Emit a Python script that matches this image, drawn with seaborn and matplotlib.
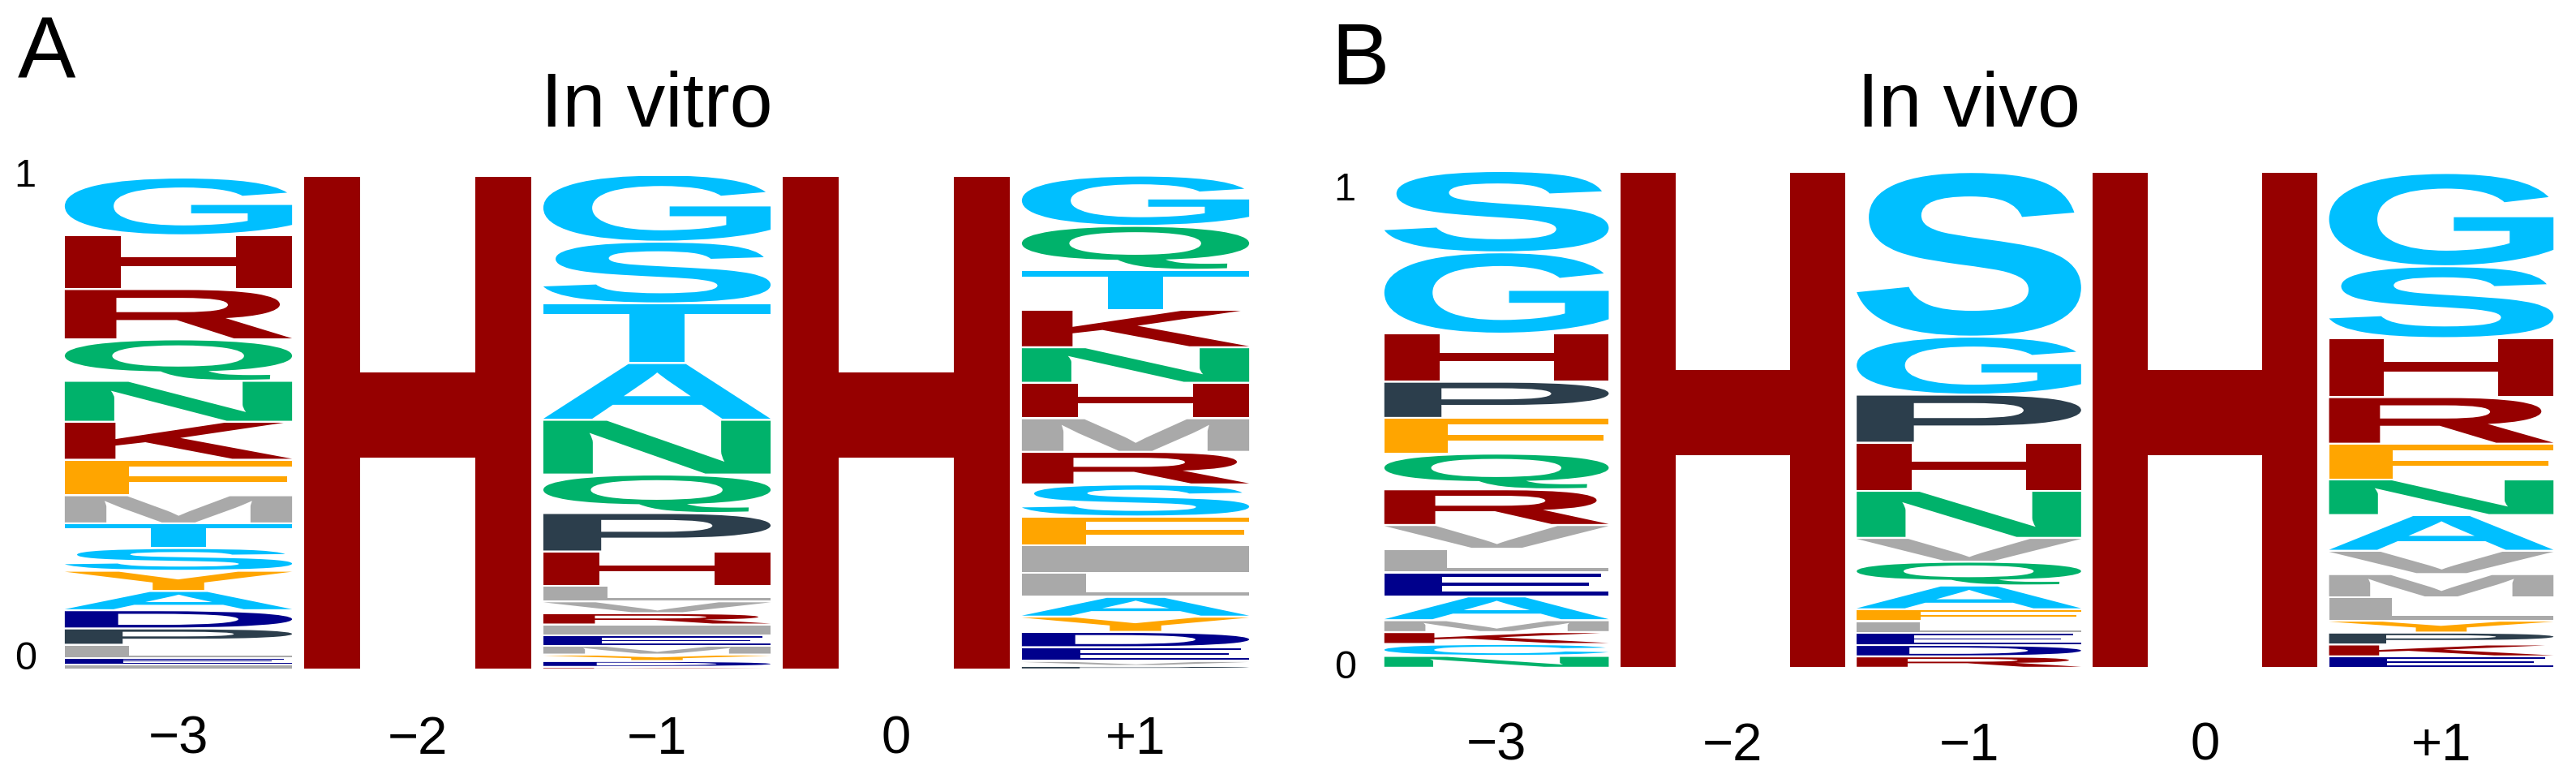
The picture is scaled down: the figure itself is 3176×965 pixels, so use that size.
import matplotlib
matplotlib.use("Agg")
import numpy as np
import pandas as pd
import seaborn as sns
import matplotlib.pyplot as plt
from matplotlib.textpath import TextPath
from matplotlib.font_manager import FontProperties
from matplotlib.patches import PathPatch
from matplotlib.transforms import Affine2D

# ---------------- data (letters listed top to bottom of each stack) ----------------
positions = ["\u22123", "\u22122", "\u22121", "0", "+1"]
titles = ["In vitro", "In vivo"]
panel_labels = ["A", "B"]

vitro_m3_letters = list("GHRQNKFMTSYADPLEI")
vitro_m3_heights = [.117, .109, .102, .084, .083, .077, .072, .057, .050, .046, .041, .039, .037, .033, .027, .013, .010]
vitro_m2_letters = ["H"]
vitro_m2_heights = [1.0]
vitro_m1_letters = list("GSTANQPHLVRIEMYDK")
vitro_m1_heights = [.136, .125, .121, .115, .111, .078, .078, .070, .031, .024, .023, .022, .021, .018, .013, .012, .005]
vitro_0_letters = ["H"]
vitro_0_heights = [1.0]
vitro_p1_letters = list("GQTKNHMRSFILAYDEVP")
vitro_p1_heights = [.102, .089, .081, .076, .072, .072, .068, .066, .065, .058, .056, .049, .040, .031, .031, .028, .010, .007]

vivo_m3_letters = list("SGHPFQRVLEAMKCN")
vivo_m3_heights = [.164, .164, .097, .073, .072, .072, .072, .048, .048, .048, .048, .024, .024, .024, .024]
vivo_m2_letters = ["H"]
vivo_m2_heights = [1.0]
vivo_m1_letters = list("SGPHNVQAFLEDR")
vivo_m1_heights = [.332, .117, .097, .097, .095, .048, .048, .048, .024, .024, .024, .023, .023]
vivo_0_letters = ["H"]
vivo_0_heights = [1.0]
vivo_p1_letters = list("GSHRFNAVMLYPKE")
vivo_p1_heights = [.188, .145, .119, .094, .072, .072, .072, .047, .047, .047, .024, .024, .024, .023]

aa_colors = {
    "G": "#00BFFF", "S": "#00BFFF", "T": "#00BFFF", "A": "#00BFFF", "C": "#00BFFF",
    "H": "#960000", "R": "#960000", "K": "#960000",
    "N": "#00B26B", "Q": "#00B26B",
    "F": "#FFA500", "Y": "#FFA500", "W": "#FFA500",
    "M": "#A9A9A9", "V": "#A9A9A9", "L": "#A9A9A9", "I": "#A9A9A9",
    "D": "#00008C", "E": "#00008C",
    "P": "#2C3E4C",
}

panels = [
    [(vitro_m3_letters, vitro_m3_heights), (vitro_m2_letters, vitro_m2_heights),
     (vitro_m1_letters, vitro_m1_heights), (vitro_0_letters, vitro_0_heights),
     (vitro_p1_letters, vitro_p1_heights)],
    [(vivo_m3_letters, vivo_m3_heights), (vivo_m2_letters, vivo_m2_heights),
     (vivo_m1_letters, vivo_m1_heights), (vivo_0_letters, vivo_0_heights),
     (vivo_p1_letters, vivo_p1_heights)],
]

# tidy table
rows = []
for p, cols in enumerate(panels):
    for i, (lets, hts) in enumerate(cols):
        y = 0.0
        for l, h in zip(reversed(lets), reversed(hts)):
            rows.append(dict(panel=p, pos=i, letter=l, bottom=y, height=h))
            y += h
df = pd.DataFrame(rows)

# ---------------- style ----------------
sns.set_theme(style="white")
plt.rcParams["font.family"] = ["Liberation Sans", "DejaVu Sans"]
plt.rcParams["text.color"] = "black"
plt.rcParams["xtick.color"] = "black"
plt.rcParams["ytick.color"] = "black"
plt.rcParams["xtick.labelcolor"] = "black"
plt.rcParams["ytick.labelcolor"] = "black"

letter_font = FontProperties(family="Liberation Sans", weight="bold")
_path_cache = {}


def letter_path(ch):
    if ch not in _path_cache:
        tp = TextPath((0, 0), ch, size=1, prop=letter_font)
        _path_cache[ch] = (tp, tp.get_extents())
    return _path_cache[ch]


def draw_letter(ax, ch, x, y, w, h, color):
    tp, ext = letter_path(ch)
    t = (Affine2D().translate(-ext.x0, -ext.y0)
         .scale(w / ext.width, h / ext.height)
         .translate(x, y))
    ax.add_patch(PathPatch(t.transform_path(tp), facecolor=color,
                           edgecolor="none", lw=0))


W, H = 3176, 965
fig = plt.figure(figsize=(W / 100, H / 100), dpi=100)

axes_px = [  # left, right, y0 (px from top), y1 (px from top)
    (72.5, 1547.5, 825, 217),
    (1699.5, 3155.5, 823, 212),
]
title_pads = [44, 40.5]
xtick_pads = [41, 48]
label_pos = [(22, 18), (1641, 26)]
letter_w = 0.95
gap = 0.004

for p in range(2):
    l, r, y0, y1 = axes_px[p]
    ax = fig.add_axes([l / W, (H - y0) / H, (r - l) / W, (y0 - y1) / H])
    sub = df[df.panel == p]
    for _, row in sub.iterrows():
        hh = row.height - gap
        if hh <= 0:
            continue
        draw_letter(ax, row.letter, row.pos - letter_w / 2, row.bottom + gap / 2,
                    letter_w, hh, aa_colors[row.letter])
    ax.set_xlim(-0.5, 4.5)
    ax.set_ylim(0, 1)
    ax.set_xticks(range(5))
    ax.set_xticklabels(positions, fontsize=47, color="black")
    ax.tick_params(axis="x", length=0, pad=xtick_pads[p])
    ax.set_yticks([0, 1])
    ax.set_yticklabels(["0", "1"], fontsize=35, color="black")
    ax.tick_params(axis="y", length=0, pad=20)
    ylabs = ax.get_yticklabels()
    if p == 0:
        ylabs[0].set_va("baseline")
        ylabs[1].set_va("center")
    else:
        ylabs[0].set_va("center")
        ylabs[1].set_va("top")
    sns.despine(ax=ax, left=True, bottom=True)
    ax.set_title(titles[p], fontsize=68.5, pad=title_pads[p], color="black")
    ax.grid(False)
    lx, ly = label_pos[p]
    fig.text(lx / W, 1 - ly / H, panel_labels[p], fontsize=77,
             ha="left", va="top", color="black")

fig.savefig("out.png", dpi=100, facecolor="white")
